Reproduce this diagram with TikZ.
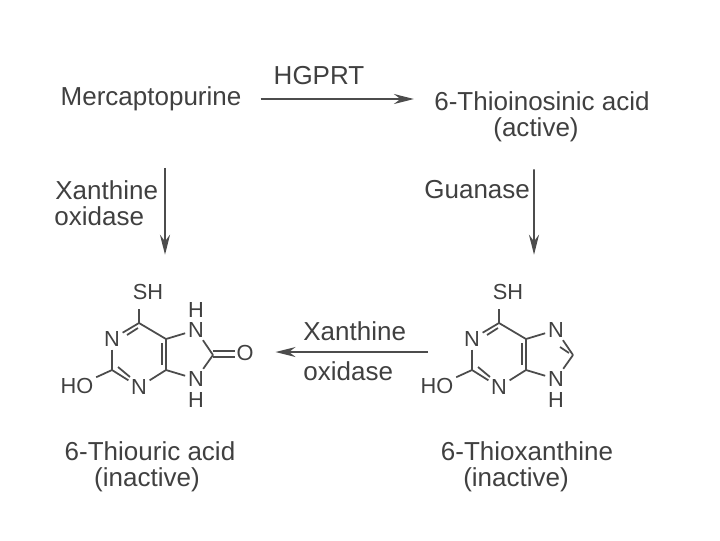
\documentclass[tikz,border=0pt]{standalone}
\usepackage{fontspec}
\setmainfont{Liberation Sans}
\usetikzlibrary{arrows.meta, calc}

\tikzset{
    label/.style={text=black!75, font=\fontsize{14.8}{17}\selectfont, inner sep=0pt},
    atom/.style={text=black!75, font=\fontsize{12.4}{14}\selectfont, inner sep=0.4pt},
    bond/.style={draw=black!70, line width=1pt},
    arrow/.style={draw=black!70, line width=0.9pt, -{Stealth[length=4mm, width=2mm]}}
}

% ring atoms and bonds that both molecules share
\newcommand{\purinecore}[1]{
  \coordinate (#1-c6) at (139,323);
  \coordinate (#1-c2) at (112,370);
  \coordinate (#1-c4) at (166,370);
  \coordinate (#1-c5) at (166,339);
  \coordinate (#1-c8) at (213,355);
  \coordinate (#1-s) at (139,303);
  \node[atom] (#1-sh) at (148,292) {SH};
  \node[atom] (#1-n1) at (112,339) {N};
  \node[atom] (#1-n3) at (139,387) {N};
  \node[atom] (#1-ho) at (77,386) {HO};
  \node[atom] (#1-n7) at (196,330) {N};
  \node[atom] (#1-n9) at (196,379) {N};
  \node[atom] (#1-h9) at (196,400) {H};
  \draw[bond, shorten >=1.2mm] (#1-c6) -- (#1-s);
  \draw[bond, shorten >=0.4mm] (#1-c6) -- (#1-n1);
  \draw[bond, shorten <=0.4mm] (#1-n1) -- (#1-c2);
  \draw[bond, shorten >=0.4mm] (#1-c2) -- (#1-n3);
  \draw[bond, shorten <=0.4mm] (#1-n3) -- (#1-c4);
  \draw[bond] (#1-c4) -- (#1-c5);
  \draw[bond] (#1-c5) -- (#1-c6);
  \draw[bond, shorten >=0.4mm] (#1-c2) -- (#1-ho);
  \draw[bond, shorten >=0.4mm] (#1-c5) -- (#1-n7);
  \draw[bond, shorten >=0.4mm] (#1-c4) -- (#1-n9);
  \draw[bond, shorten <=0.4mm] (#1-n7) -- (#1-c8);
  \draw[bond, shorten <=0.4mm] (#1-n9) -- (#1-c8);
  % inner lines of the double bonds
  \draw[bond] ($(#1-c6)+(-12,12)$) -- ($(#1-c6)+(-1,5)$);
  \draw[bond] ($(#1-c2)+(6,-3)$) -- ($(#1-c2)+(18,7)$);
  \draw[bond] ($(#1-c5)+(-4,4)$) -- ($(#1-c5)+(-4,26)$);
}

\begin{document}
\begin{tikzpicture}[x=0.2mm, y=-0.2mm]
  \useasboundingbox (0,0) rectangle (720,540);

  \node[label] (merc) at (151,99) {Mercaptopurine};
  \node[label] (thioino) at (542,101) {6-Thioinosinic acid};
  \node[label] (active) at (536,130) {(active)};
  \node[label] (hgprt) at (319,76) {HGPRT};

  \node[label, anchor=west] (xo1) at (55,190) {Xanthine};
  \node[label, anchor=west] (xo2) at (54,216) {oxidase};
  \node[label, anchor=west] (guanase) at (424,190) {Guanase};
  \node[label, anchor=west] (xo3) at (303,331) {Xanthine};
  \node[label, anchor=west] (xo4) at (303,371) {oxidase};

  \purinecore{l}
  \node[atom] (l-h7) at (196,310) {H};
  \node[atom] (l-o) at (245,353) {O};
  \draw[bond] (l-c8) ++(0,-4) -- (l-o.west |- 0,351);
  \draw[bond] (l-c8) ++(0,2) -- (l-o.west |- 0,357);

  \begin{scope}[shift={(360,0)}]
    \purinecore{r}
    \draw[bond] ($(r-c8)+(-13,-8)$) -- ($(r-c8)+(-4,-2)$);
  \end{scope}

  \node[label] (uric1) at (150,451) {6-Thiouric acid};
  \node[label] (uric2) at (147,480) {(inactive)};
  \node[label] (xan1) at (527,451) {6-Thioxanthine};
  \node[label] (xan2) at (516,480) {(inactive)};

  \coordinate (xo-start) at (428,352);
  \draw[arrow, shorten <=3.8mm, shorten >=4.0mm] (merc.east) -- (merc.east -| thioino.west);
  \draw[arrow, shorten <=11.3mm, shorten >=5.7mm] ([xshift=2.8mm]merc.south) -- ([xshift=3.4mm]l-sh.north);
  \draw[arrow, shorten <=5.4mm, shorten >=5.7mm] ([xshift=-0.4mm]active.south) -- ([xshift=5.2mm]r-sh.north);
  \draw[arrow, shorten >=4.2mm] (xo-start) -- (xo-start -| l-o.east);
\end{tikzpicture}
\end{document}
